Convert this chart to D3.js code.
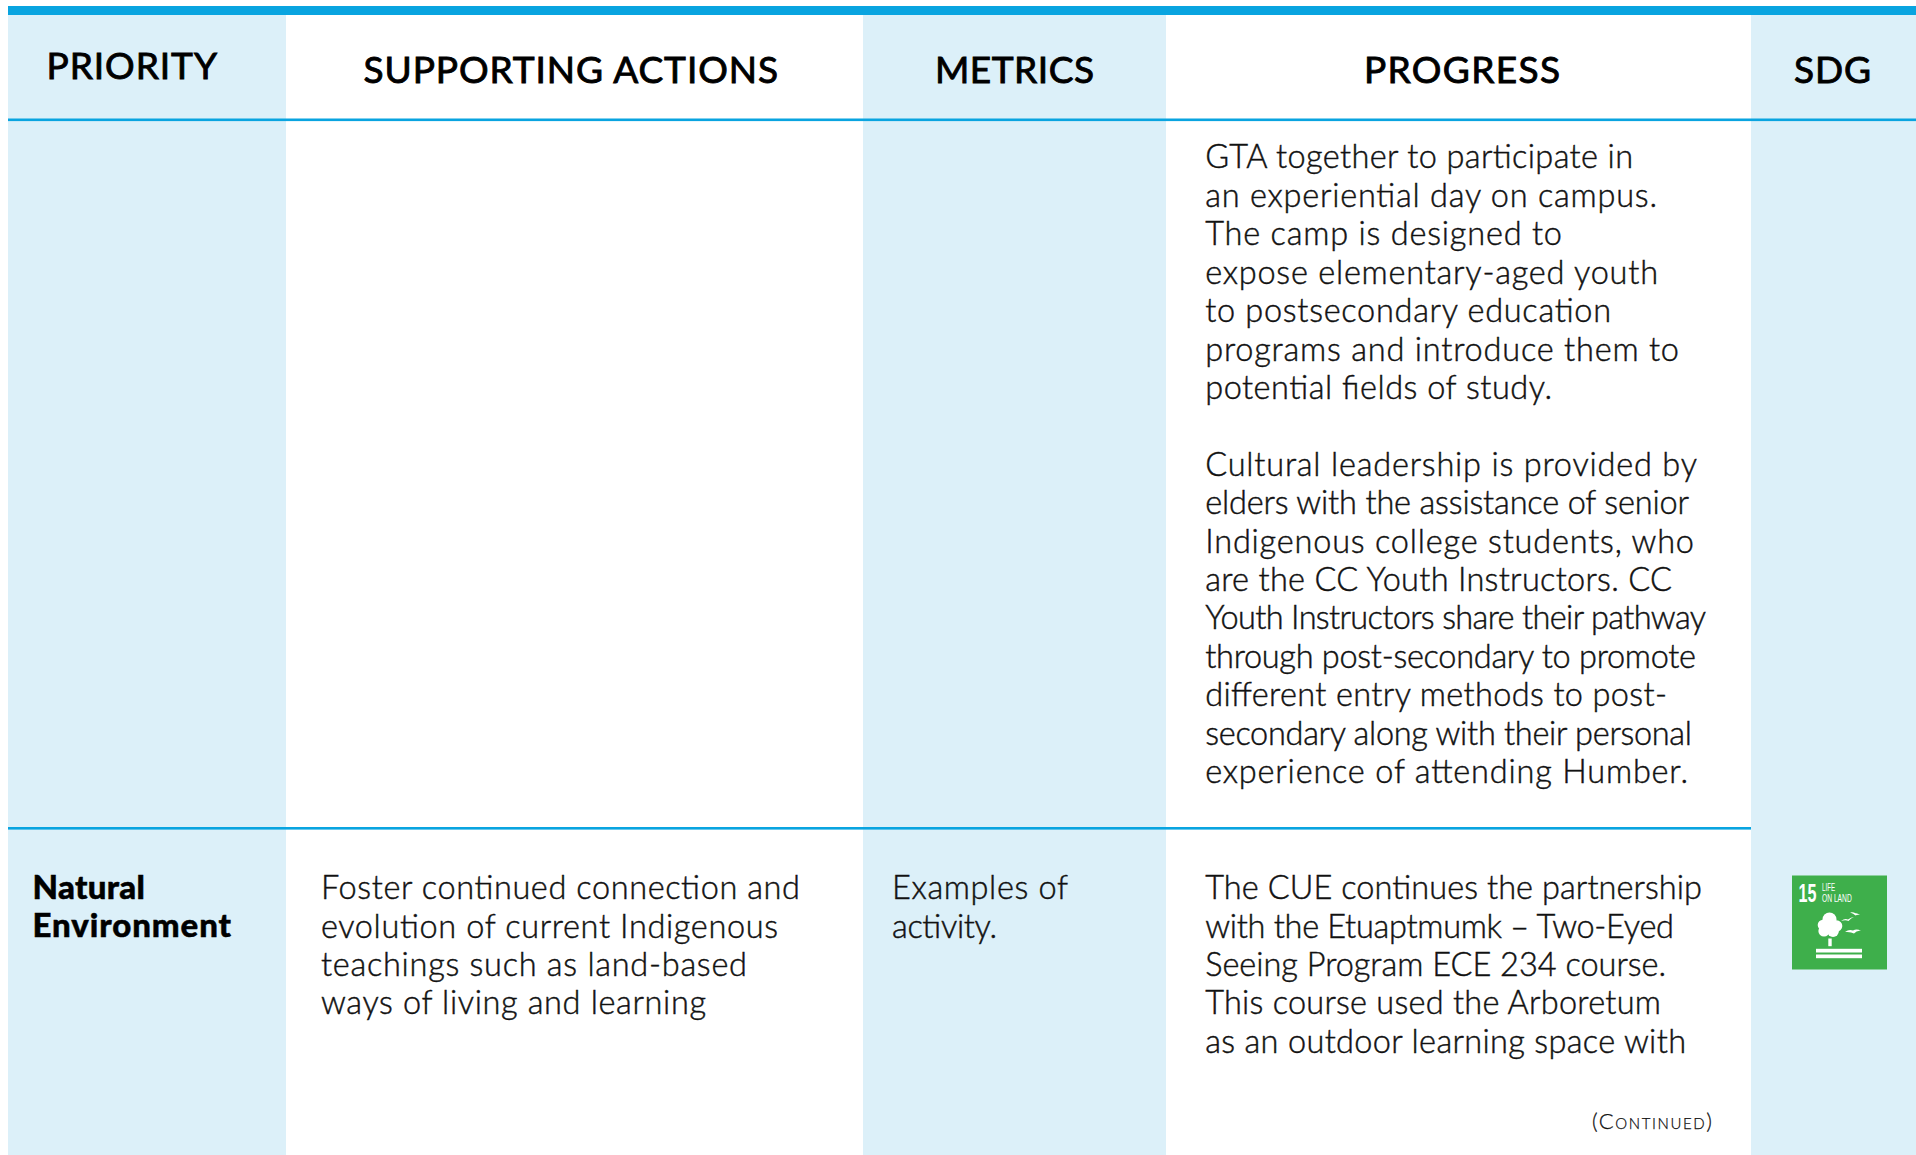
<!DOCTYPE html>
<html><head><meta charset="utf-8">
<script src="https://cdn.jsdelivr.net/npm/d3@7"></script>
<style>html,body{margin:0;padding:0;background:#fff;overflow:hidden}svg{display:block}</style>
</head><body><div id="c"></div>
<script>
const headers = ["PRIORITY","SUPPORTING ACTIONS","METRICS","PROGRESS","SDG"];
const progressTop = ["GTA together to participate in","an experiential day on campus.","The camp is designed to","expose elementary-aged youth","to postsecondary education","programs and introduce them to","potential fields of study.","","Cultural leadership is provided by","elders with the assistance of senior","Indigenous college students, who","are the CC Youth Instructors. CC","Youth Instructors share their pathway","through post-secondary to promote","different entry methods to post-","secondary along with their personal","experience of attending Humber."];
const priority = ["Natural","Environment"];
const actions = ["Foster continued connection and","evolution of current Indigenous","teachings such as land-based","ways of living and learning"];
const metrics = ["Examples of","activity."];
const progressBottom = ["The CUE continues the partnership","with the Etuaptmumk – Two-Eyed","Seeing Program ECE 234 course.","This course used the Arboretum","as an outdoor learning space with"];

// measured line extents (layout, kept apart from the text)
const headerLeft=[46.5,363.5,935,1364,1794], headerRight=[217,778,1094,1560,1871], headerBase=[79,82.5,82.5,82.5,82.5];
const progressTopRight=[1633,1657,1562,1658,1611,1679,1552,0,1697,1689,1694,1672,1706,1696,1667,1692,1688];
const priorityRight=[145,231];
const actionsRight=[800,778,747,706];
const metricsRight=[1068,997];
const progressBottomRight=[1702,1674,1666,1661,1686];

const W=1916,H=1155,blue="#09a4e0",light="#dcf0f9",ink="#111";
const svg=d3.select("#c").append("svg").attr("width",W).attr("height",H);
const cols=[8,286,863,1166,1751,1916];
svg.selectAll("rect.col").data([0,2,4]).join("rect").attr("class","col")
 .attr("x",i=>cols[i]).attr("y",15).attr("width",i=>cols[i+1]-cols[i]).attr("height",H-15).attr("fill",light);
svg.append("rect").attr("x",8).attr("y",6).attr("width",W-8).attr("height",9).attr("fill",blue);
svg.append("rect").attr("x",8).attr("y",118.5).attr("width",W-8).attr("height",2.6).attr("fill",blue);
svg.append("rect").attr("x",8).attr("y",827).attr("width",1751-8).attr("height",2.6).attr("fill",blue);

svg.selectAll("text.h").data(headers).join("text").attr("class","h")
 .attr("x",(d,i)=>headerLeft[i]).attr("y",(d,i)=>headerBase[i])
 .attr("textLength",(d,i)=>headerRight[i]-headerLeft[i]).attr("lengthAdjust","spacing")
 .attr("font-family","Lato").attr("font-weight",400).attr("font-size",37)
 .attr("fill","#000").attr("stroke","#000").attr("stroke-width",0.9).text(d=>d);

function block(lines,rights,x,y0,opt={}){
 svg.append("g").selectAll("text").data(lines).join("text")
  .attr("x",x).attr("y",(d,i)=>y0+i*38.42)
  .attr("textLength",(d,i)=>d?rights[i]-x:null).attr("lengthAdjust","spacing")
  .attr("font-family","Lato").attr("font-weight",opt.w||300).attr("font-size",opt.s||32.5)
  .attr("fill",opt.c||ink).attr("stroke",opt.c||ink).attr("stroke-width",opt.sw===undefined?0.45:opt.sw).text(d=>d);
}
block(progressTop,progressTopRight,1205.2,168.4);
block(priority,priorityRight,32.5,899,{w:900,c:"#000",s:33,sw:0.5});
block(actions,actionsRight,321,899.2);
block(metrics,metricsRight,892,899.2);
block(progressBottom,progressBottomRight,1205.2,899.2);

svg.append("text").attr("x",1592).attr("y",1128.8).attr("textLength",120).attr("lengthAdjust","spacing")
 .attr("font-family","Lato").attr("font-weight",300).attr("font-size",22).attr("fill",ink).attr("stroke",ink).attr("stroke-width",0.25)
 .style("font-variant","small-caps").text("(Continued)");

// SDG 15 icon
const g=svg.append("g").attr("transform","translate(1792,875.5)");
g.append("rect").attr("width",95).attr("height",94).attr("fill","#3eaf4b");
const iconFont="Liberation Sans";
g.append("text").attr("transform","translate(6.5,26.8) scale(.62,1)").attr("font-family",iconFont).attr("font-weight",700).attr("font-size",26).attr("fill","#fff").text("15");
g.append("text").attr("transform","translate(30,15) scale(.62,1)").attr("font-family",iconFont).attr("font-size",10).attr("fill","#fff").text("LIFE");
g.append("text").attr("transform","translate(30,26.7) scale(.67,1)").attr("font-family",iconFont).attr("font-size",10).attr("fill","#fff").text("ON LAND");
const crown=[[37.5,44,7],[31,49.5,5.3],[44.5,50.5,5.8],[32,55.5,5.6],[41,55.5,5.9],[37,51,7.5]];
g.selectAll("circle").data(crown).join("circle").attr("cx",d=>d[0]).attr("cy",d=>d[1]).attr("r",d=>d[2]).attr("fill","#fff");
g.append("rect").attr("x",36.3).attr("y",63).attr("width",3.4).attr("height",7.7).attr("fill","#fff");
g.append("rect").attr("x",24).attr("y",73.3).attr("width",46).attr("height",3.7).attr("fill","#fff");
g.append("rect").attr("x",24).attr("y",79).attr("width",46).attr("height",3.7).attr("fill","#fff");
const birds=["M49 45.5q4-3 7-1.5q3-2.500 6-2.500q-3 1-5.500 4q-3-1.500-7.500 0z","M58 37q3-1 5.500.8q2-.3 4.500 1.700q-2.500-.8-4.500.6q-2-2-5.500-3z","M53 56.500q4-3 8-1.500q4-2 8 .5q-4-.8-7 2.500q-3-2-9-1.500z"];
g.selectAll("path").data(birds).join("path").attr("d",d=>d).attr("fill","#fff");
</script></body></html>
